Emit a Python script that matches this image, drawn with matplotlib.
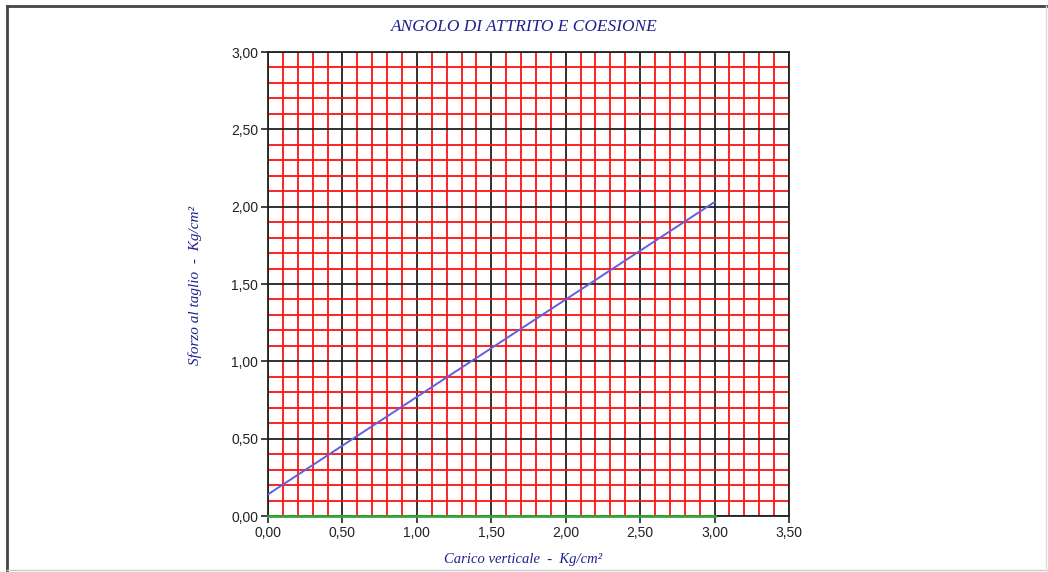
import matplotlib
matplotlib.use('Agg')
from matplotlib import pyplot
from matplotlib.ticker import MultipleLocator, FuncFormatter
from matplotlib.lines import Line2D

# Data #
carico   = [0.0, 3.0]
sforzo   = [0.14, 2.03]
base_x   = [0.0, 3.0]
base_y   = [0.0, 0.0]

title   = 'ANGOLO DI ATTRITO E COESIONE'
x_label = 'Carico verticale  -  Kg/cm²'
y_label = 'Sforzo al taglio  -  Kg/cm²'

navy = '#1f1f8f'

################################################################################
fig = pyplot.figure(figsize=(10.48, 5.72), dpi=100)
W, H = 1048, 572
axes = fig.add_axes([268/W, 1 - 516/H, (789 - 268)/W, (516 - 52)/H])

# Outer frame #
fig.add_artist(Line2D([7/W, 7/W], [1 - 6/H, 0], transform=fig.transFigure, color='#444444', lw=2))
fig.add_artist(Line2D([7/W, 1], [1 - 6/H, 1 - 6/H], transform=fig.transFigure, color='#444444', lw=2))
fig.add_artist(Line2D([7/W, 1], [1 - 570/H, 1 - 570/H], transform=fig.transFigure, color='#cccccc', lw=1))
fig.add_artist(Line2D([1046/W, 1046/W], [1 - 6/H, 0], transform=fig.transFigure, color='#dddddd', lw=1))

# Grid #
axes.set_xlim(0, 3.5)
axes.set_ylim(0, 3.0)
axes.xaxis.set_major_locator(MultipleLocator(0.5))
axes.yaxis.set_major_locator(MultipleLocator(0.5))
axes.xaxis.set_minor_locator(MultipleLocator(0.1))
axes.yaxis.set_minor_locator(MultipleLocator(0.1))
axes.grid(True, which='minor', color='#ff1010', linewidth=1.3, zorder=1)
axes.grid(True, which='major', color='#222222', linewidth=1.3, zorder=2)
axes.set_axisbelow(True)
for s in axes.spines.values():
    s.set_color('#222222')
    s.set_linewidth(1.3)

# Curves #
axes.plot(base_x, base_y, color='#33aa33', linewidth=2, zorder=3, clip_on=False)
axes.plot(carico, sforzo, color='#6060e0', linewidth=1.4, zorder=4)

# Ticks #
comma = FuncFormatter(lambda v, pos: ('%.2f' % v).replace('.', ','))
axes.xaxis.set_major_formatter(comma)
axes.yaxis.set_major_formatter(comma)
axes.tick_params(which='minor', length=0)
axes.tick_params(which='major', direction='out', length=5, width=1.2, color='#222222',
                 labelsize=10, labelcolor='#222222', pad=2)
for lab in axes.get_xticklabels() + axes.get_yticklabels():
    lab.set_family('Liberation Sans')

# Labels #
fig.text(524/W, 1 - 27/H, title, ha='center', va='center', family='Liberation Serif',
         style='italic', fontsize=12.5, color=navy)
fig.text(523/W, 1 - 560/H, x_label, ha='center', va='center', family='Liberation Serif',
         style='italic', fontsize=10.5, color=navy)
fig.text(195/W, 1 - 285/H, y_label, ha='center', va='center', rotation=90,
         family='Liberation Serif', style='italic', fontsize=11, color=navy)

fig.savefig('out.png', dpi=100)
